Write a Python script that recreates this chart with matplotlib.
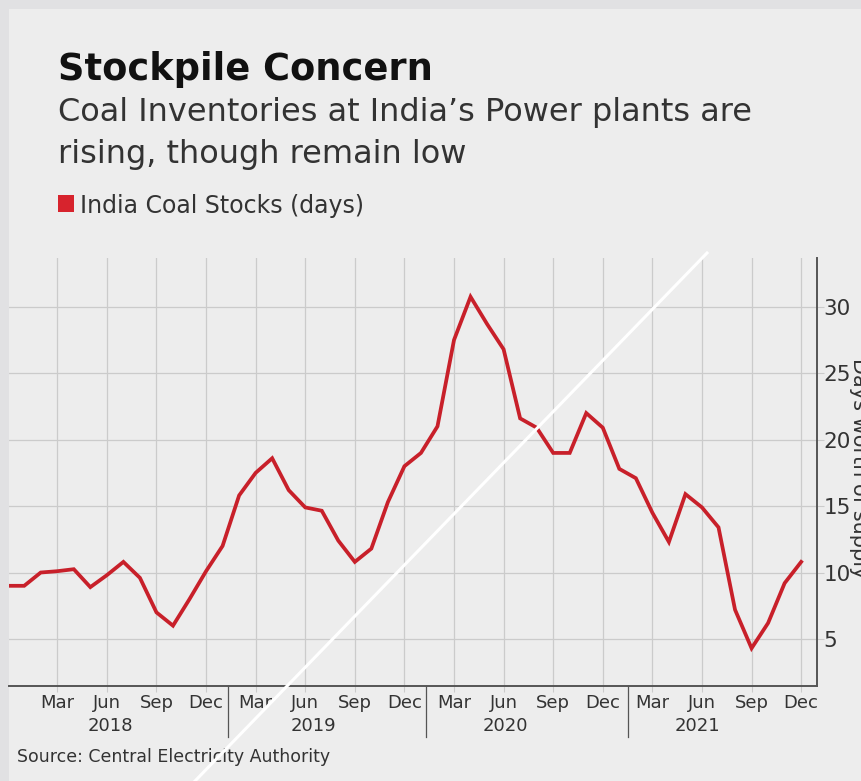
import matplotlib
matplotlib.use("Agg")
import matplotlib.pyplot as plt
from matplotlib.patches import Rectangle
from matplotlib.lines import Line2D

# monthly coal stock (days), Dec 2017 .. Dec 2021
months = list(range(-1, 48))  # 0 = Jan 2018
stocks = [9.0,
          9.0, 10.0, 10.1, 10.25, 8.9, 9.8, 10.8, 9.6, 7.0, 6.0, 8.0, 10.1,
          12.0, 15.8, 17.5, 18.6, 16.2, 14.9, 14.65, 12.4, 10.8, 11.8, 15.3, 18.0,
          19.0, 21.0, 27.5, 30.75, 28.7, 26.8, 21.6, 20.9, 19.0, 19.0, 22.0, 20.9,
          17.8, 17.1, 14.5, 12.3, 15.9, 14.9, 13.4, 7.2, 4.3, 6.2, 9.2, 10.8]

quarter_ticks = [2, 5, 8, 11, 14, 17, 20, 23, 26, 29, 32, 35, 38, 41, 44, 47]
quarter_labels = ["Mar", "Jun", "Sep", "Dec"] * 4
years = ["2018", "2019", "2020", "2021"]
year_pos = [5.2, 17.5, 29.1, 40.7]
year_breaks = [12.3, 24.3, 36.5]
y_ticks = [5, 10, 15, 20, 25, 30]

W, H = 861, 781
fig = plt.figure(figsize=(W / 100, H / 100), dpi=100)
fig.patch.set_facecolor("#e1e1e3")
fig.add_artist(Rectangle((9 / W, 0), 1, 1 - 9 / H, transform=fig.transFigure,
                         facecolor="#ededed", edgecolor="none", zorder=0))

ax = fig.add_axes([9 / W, 1 - 686 / H, (816.7 - 9) / W, (686 - 258) / H])
ax.set_facecolor("none")
ax.plot(months, stocks, color="#c8202a", lw=2.7, solid_joinstyle="miter", zorder=3)

ax.set_xlim(-0.92, 47.94)
ax.set_ylim(1.46, 33.67)

for x in quarter_ticks:
    ax.axvline(x, color="#cbcbcb", lw=0.9, zorder=1)
for y in y_ticks:
    ax.axhline(y, color="#cbcbcb", lw=0.9, zorder=1)

for s in ["top", "left"]:
    ax.spines[s].set_visible(False)
ax.spines["bottom"].set_color("#555555")
ax.spines["bottom"].set_linewidth(1.4)
ax.spines["right"].set_color("#555555")
ax.spines["right"].set_linewidth(1.4)

ax.yaxis.tick_right()
ax.set_yticks(y_ticks)
ax.set_yticklabels([str(v) for v in y_ticks], fontsize=15.5, color="#333333")
ax.tick_params(axis="y", length=5, color="#cbcbcb", pad=0)

ax.set_xticks(quarter_ticks)
ax.set_xticklabels(quarter_labels, fontsize=13, color="#333333")
ax.tick_params(axis="x", length=4, color="#cbcbcb", pad=2)

for x, yr in zip(year_pos, years):
    ax.text(x, -0.093, yr, transform=ax.get_xaxis_transform(), ha="center", va="center",
            fontsize=13, color="#333333")
for x in year_breaks:
    ax.plot([x, x], [0, -0.12], transform=ax.get_xaxis_transform(), color="#555555",
            lw=0.9, clip_on=False)

# axis title sits at the very right edge, partly cut off as in the source image
fig.text(859 / W, 1 - 468 / H, "Days worth of supply", rotation=270, ha="center", va="center",
         fontsize=15, color="#333333")

fig.text(58 / W, 1 - 70 / H, "Stockpile Concern", fontsize=26.5, fontweight="bold",
         color="#111111", va="center", ha="left")
fig.text(58 / W, 1 - 113 / H, "Coal Inventories at India\u2019s Power plants are",
         fontsize=23, color="#333333", va="center", ha="left")
fig.text(58 / W, 1 - 155 / H, "rising, though remain low",
         fontsize=23, color="#333333", va="center", ha="left")
fig.add_artist(Rectangle((58 / W, 1 - 212 / H), 16 / W, 17 / H, transform=fig.transFigure,
                         facecolor="#d7232d", edgecolor="none"))
fig.text(80 / W, 1 - 206 / H, "India Coal Stocks (days)", fontsize=17, color="#333333",
         va="center", ha="left")
fig.text(17 / W, 1 - 757 / H, "Source: Central Electricity Authority", fontsize=12.5,
         color="#333333", va="center", ha="left")

# white diagonal stroke across the image
fig.add_artist(Line2D([195 / W, 707 / W], [0, 1 - 253 / H], transform=fig.transFigure,
                      color="white", lw=2.2, zorder=10))

fig.savefig("out.png", dpi=100, facecolor=fig.get_facecolor())
